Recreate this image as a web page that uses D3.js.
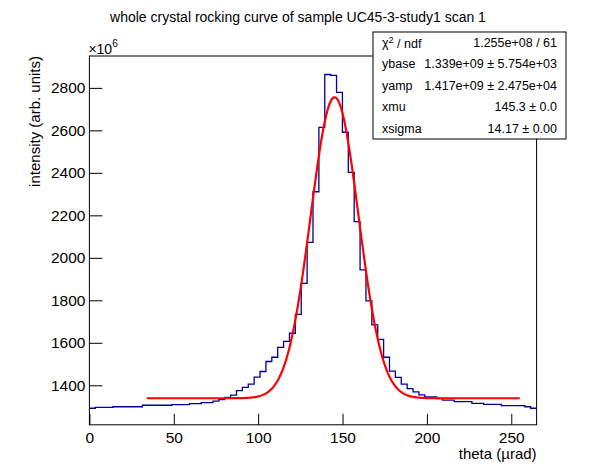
<!DOCTYPE html>
<html>
<head>
<meta charset="utf-8">
<script src="https://cdn.jsdelivr.net/npm/d3@7"></script>
<style>
  body { margin: 0; background: #fff; }
  text { font-family: "Liberation Sans", Arial, sans-serif; fill: #000; }
</style>
</head>
<body>
<script>
// histogram bin contents (x10^6), 76 equal bins over theta range
const thetaMin = 0;
const thetaMax = 265;
const binValues = [
  1292, 1296, 1296, 1296, 1299, 1299, 1299, 1299, 1299, 1306,
  1306, 1306, 1306, 1306, 1309, 1309, 1309, 1314, 1314, 1318,
  1318, 1325, 1333, 1343, 1354, 1375, 1390, 1405, 1438, 1465,
  1512, 1532, 1578, 1607, 1645, 1734, 1880, 2073, 2311, 2614,
  2863, 2859, 2779, 2591, 2402, 2170, 1943, 1797, 1684, 1616,
  1532, 1467, 1437, 1405, 1384, 1369, 1355, 1345, 1345, 1337,
  1330, 1330, 1323, 1323, 1323, 1315, 1315, 1310, 1310, 1310,
  1304, 1304, 1304, 1304, 1299, 1292
];

// fit parameters from the stat box (gaus + constant), y in 10^6
const fitBase = 1339;
const fitAmp = 1417;
const fitMu = 145.3;
const fitSigma = 14.17;
const fitRange = [34, 255];

const yTicks = [1400, 1600, 1800, 2000, 2200, 2400, 2600, 2800];
const xTicks = [0, 50, 100, 150, 200, 250];

const statNames = ["ybase", "yamp", "xmu", "xsigma"];
const statValues = ["1.339e+09 \u00b1 5.754e+03", "1.417e+09 \u00b1 2.475e+04", "145.3 \u00b1 0.0", "14.17 \u00b1 0.00"];
const chi2Value = "1.255e+08 / 61";

const W = 596, H = 472;
const frame = {left: 89.4, right: 536.6, top: 56, bottom: 424.8};

const svg = d3.select("body")
  .append("svg")
  .attr("width", W)
  .attr("height", H);

const x = d3.scaleLinear()
  .domain([thetaMin, thetaMax])
  .range([frame.left, frame.right]);

const y = d3.scaleLinear()
  .domain([1214, 2950])
  .range([frame.bottom, frame.top]);

// title
svg.append("text")
  .attr("x", 298)
  .attr("y", 22)
  .attr("text-anchor", "middle")
  .style("font-size", "14px")
  .text("whole crystal rocking curve of sample UC45-3-study1 scan 1");

// histogram as a step line
const binWidth = (thetaMax - thetaMin) / binValues.length;
const steps = binValues.map((v, i) => [thetaMin + i * binWidth, v]);
steps.push([thetaMax, binValues[binValues.length - 1]]);

svg.append("path")
  .datum(steps)
  .attr("fill", "none")
  .attr("stroke", "#000099")
  .attr("stroke-width", 1.3)
  .attr("d", d3.line()
    .x(d => x(d[0]))
    .y(d => y(d[1]))
    .curve(d3.curveStepAfter));

// fit curve, sampled across the fit range
const fitPts = d3.range(fitRange[0], fitRange[1] + 0.01, 0.5).map(t =>
  [t, fitBase + fitAmp * Math.exp(-0.5 * Math.pow((t - fitMu) / fitSigma, 2))]);

svg.append("path")
  .datum(fitPts)
  .attr("fill", "none")
  .attr("stroke", "#ff0000")
  .attr("stroke-width", 2.2)
  .attr("d", d3.line()
    .x(d => x(d[0]))
    .y(d => y(d[1])));

// axes, ticks pointing into the frame
const gx = svg.append("g")
  .attr("transform", `translate(0,${frame.bottom})`);
gx.call(d3.axisBottom(x).tickValues(d3.range(0, 261, 10)).tickSize(-5.5).tickFormat(""));
gx.call(d3.axisBottom(x).tickValues(xTicks).tickSize(-11).tickPadding(7).tickFormat(d3.format("d")))
  .selectAll("text")
  .style("font-size", "15.5px");
gx.selectAll(".domain").remove();

const gy = svg.append("g")
  .attr("transform", `translate(${frame.left},0)`);
gy.call(d3.axisLeft(y).tickValues(d3.range(1250, 2950, 50)).tickSize(-6.5).tickFormat(""));
gy.call(d3.axisLeft(y).tickValues(yTicks).tickSize(-13).tickPadding(4).tickFormat(d3.format("d")))
  .selectAll("text")
  .style("font-size", "15.5px");
gy.selectAll(".domain").remove();
svg.selectAll(".tick line").attr("stroke", "#000");

// frame
svg.append("rect")
  .attr("x", frame.left)
  .attr("y", frame.top)
  .attr("width", frame.right - frame.left)
  .attr("height", frame.bottom - frame.top)
  .attr("fill", "none")
  .attr("stroke", "#000");

// exponent above the y axis
const expo = svg.append("text")
  .attr("x", frame.left - 1)
  .attr("y", 54)
  .style("font-size", "14px")
  .text("\u00d710");
expo.append("tspan")
  .attr("dy", -7)
  .style("font-size", "10px")
  .text("6");

// axis titles
svg.append("text")
  .attr("x", frame.right)
  .attr("y", 459)
  .attr("text-anchor", "end")
  .style("font-size", "15px")
  .text("theta (\u00b5rad)");

svg.append("text")
  .attr("transform", `translate(40,${frame.top}) rotate(-90)`)
  .attr("text-anchor", "end")
  .style("font-size", "15px")
  .text("intensity (arb. units)");

// stat box
const box = {x: 373, y: 32, w: 193, h: 107};
const rowH = box.h / 5;
const statFont = "12.5px";
svg.append("rect")
  .attr("x", box.x)
  .attr("y", box.y)
  .attr("width", box.w)
  .attr("height", box.h)
  .attr("fill", "#fff")
  .attr("stroke", "#000");

const chi = svg.append("text")
  .attr("x", box.x + 9)
  .attr("y", box.y + rowH * 0.5)
  .attr("dy", "0.35em")
  .style("font-size", statFont)
  .text("\u03c7");
chi.append("tspan").attr("dy", "-0.4em").style("font-size", "9px").text("2");
chi.append("tspan").attr("dy", "0.4em").text(" / ndf");

svg.append("text")
  .attr("x", box.x + box.w - 9)
  .attr("y", box.y + rowH * 0.5)
  .attr("dy", "0.35em")
  .attr("text-anchor", "end")
  .style("font-size", statFont)
  .text(chi2Value);

statNames.forEach((name, i) => {
  const cy = box.y + rowH * (i + 1.5);
  svg.append("text")
    .attr("x", box.x + 9)
    .attr("y", cy)
    .attr("dy", "0.35em")
    .style("font-size", statFont)
    .text(name);
  svg.append("text")
    .attr("x", box.x + box.w - 9)
    .attr("y", cy)
    .attr("dy", "0.35em")
    .attr("text-anchor", "end")
    .style("font-size", statFont)
    .text(statValues[i]);
});
</script>
</body>
</html>
